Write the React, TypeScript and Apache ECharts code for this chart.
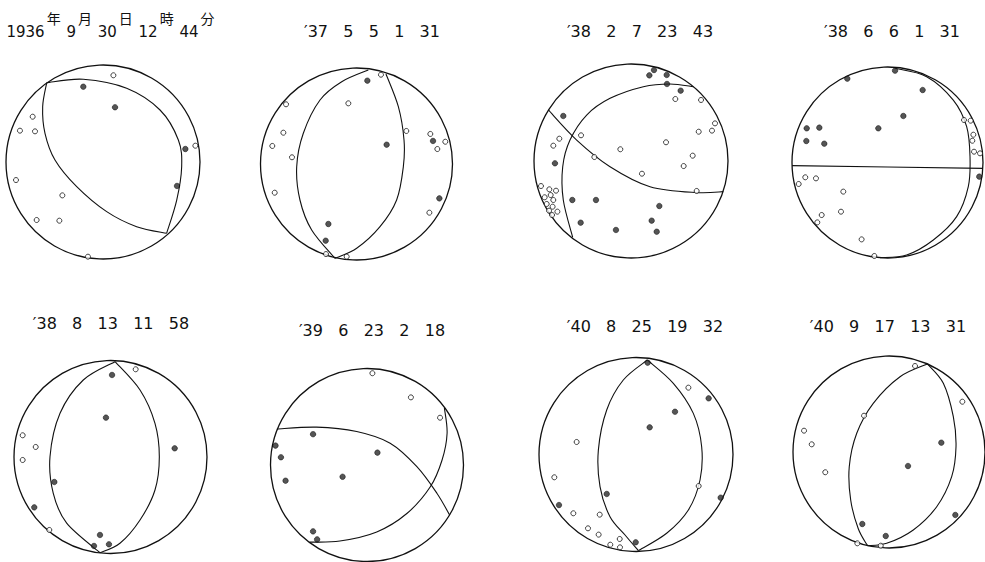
import React, { useEffect, useRef } from "react";
import * as echarts from "echarts";

// ---- titles ----
const title1Parts = ["1936", "年", "9", "月", "30", "日", "12", "時", "44", "分"];
const titles = [
  "",
  "′37   5   5   1   31",
  "′38   2   7   23   43",
  "′38   6   6   1   31",
  "′38   8   13   11   58",
  "′39   6   23   2   18",
  "′40   8   25   19   32",
  "′40   9   17   13   31",
];

// ---- panel 1 ----
const open1 = [[0.107,0.894],[-0.725,0.467],[-0.856,0.323],[-0.701,0.316],[0.952,0.168],[-0.897,-0.186],[-0.419,-0.344],[-0.684,-0.598],[-0.450,-0.605],[-0.155,-0.976]];
const filled1 = [[-0.203,0.776],[0.124,0.564],[0.849,0.134],[0.763,-0.247]];
const planes1 = [
  [[-0.580,0.818],[-0.203,0.853],[0.244,0.760],[0.588,0.536],[0.777,0.227],[0.811,-0.048],[0.760,-0.392],[0.656,-0.735]],
  [[-0.580,0.818],[-0.622,0.570],[-0.598,0.296],[-0.495,0.021],[-0.271,-0.254],[0.038,-0.512],[0.347,-0.667],[0.656,-0.735]],
];

// ---- panel 2 ----
const open2 = [[0.255,0.930],[-0.734,0.622],[-0.085,0.632],[-0.762,0.326],[-0.877,0.188],[-0.672,0.070],[0.519,0.344],[0.769,0.313],[0.842,0.156],[0.925,0.232],[-0.852,-0.299],[0.759,-0.507],[-0.318,-0.938],[-0.102,-0.965]];
const filled2 = [[0.113,0.868],[0.314,0.201],[0.797,0.240],[0.863,-0.358],[-0.293,-0.625],[-0.321,-0.799]];
const planes2 = [
  [[0.123,0.979],[-0.154,0.857],[-0.380,0.667],[-0.554,0.320],[-0.623,-0.028],[-0.589,-0.375],[-0.467,-0.688],[-0.224,-0.983]],
  [[0.307,0.938],[0.436,0.597],[0.495,0.250],[0.488,-0.028],[0.418,-0.375],[0.245,-0.653],[0.002,-0.878],[-0.224,-0.983]],
];

// ---- panel 3 ----
const open3 = [[0.457,0.639],[0.722,0.629],[0.866,0.388],[0.835,0.313],[0.698,0.302],[-0.515,0.265],[-0.739,0.230],[-0.801,0.158],[0.361,0.193],[-0.110,0.121],[-0.378,0.041],[0.636,0.055],[0.543,-0.052],[0.113,-0.131],[0.677,-0.309],[-0.928,-0.258],[-0.842,-0.292],[-0.773,-0.306],[-0.890,-0.374],[-0.828,-0.351],[-0.801,-0.402],[-0.869,-0.443],[-0.808,-0.471],[-0.759,-0.522],[-0.845,-0.512],[-0.814,-0.557]];
const filled3 = [[0.189,0.883],[0.237,0.938],[0.368,0.887],[0.371,0.794],[0.512,0.725],[-0.698,0.464],[-0.784,-0.024],[-0.605,-0.402],[-0.361,-0.402],[0.292,-0.464],[-0.519,-0.636],[0.213,-0.615],[-0.155,-0.711],[0.265,-0.729]];
const planes3 = [
  [[-0.852,0.526],[-0.560,0.216],[-0.216,-0.059],[0.196,-0.265],[0.677,-0.326],[0.952,-0.316]],
  [[0.643,0.766],[0.402,0.794],[0.127,0.766],[-0.216,0.646],[-0.457,0.474],[-0.629,0.216],[-0.704,-0.059],[-0.698,-0.402],[-0.601,-0.787]],
];

// ---- panel 4 ----
const open4 = [[0.801,0.445],[0.871,0.438],[0.899,0.291],[0.888,0.228],[0.906,0.113],[0.969,0.096],[-0.861,-0.155],[-0.749,-0.166],[-0.930,-0.225],[-0.463,-0.305],[-0.487,-0.515],[-0.689,-0.550],[-0.735,-0.627],[-0.271,-0.805],[-0.138,-0.979]];
const filled4 = [[0.079,0.962],[-0.421,0.878],[0.368,0.759],[0.166,0.487],[-0.846,0.358],[-0.714,0.365],[-0.096,0.358],[-0.850,0.225],[-0.662,0.197],[0.961,-0.148]];
const planes4 = [
  [[-0.999,-0.033],[1.0,-0.061]],
  [[0.079,0.986],[0.410,0.899],[0.689,0.654],[0.829,0.375],[0.864,0.061],[0.846,-0.253],[0.724,-0.567],[0.480,-0.812],[0.201,-0.969],[-0.079,-0.997]],
];

// ---- panel 5 ----
const open5 = [[0.261,0.909],[-0.910,0.225],[-0.775,0.104],[-0.910,-0.031],[-0.634,-0.756]];
const filled5 = [[0.016,0.850],[-0.047,0.408],[0.665,0.090],[-0.582,-0.259],[-0.790,-0.522],[-0.109,-0.808],[-0.171,-0.922],[-0.016,-0.905]];
const planes5 = [
  [[0.047,0.988],[-0.282,0.798],[-0.523,0.453],[-0.627,0.003],[-0.593,-0.376],[-0.454,-0.686],[-0.109,-0.992]],
  [[0.047,0.988],[0.306,0.694],[0.461,0.349],[0.506,0.003],[0.461,-0.342],[0.306,-0.653],[0.098,-0.894],[-0.109,-0.992]],
];

// ---- panel 6 ----
const open6 = [[0.056,0.951],[0.455,0.701],[0.757,0.490]];
const filled6 = [[-0.559,0.319],[-0.948,0.201],[-0.892,0.080],[0.108,0.128],[-0.253,-0.122],[-0.844,-0.163],[-0.559,-0.688],[-0.517,-0.771]];
const planes6 = [
  [[-0.934,0.372],[-0.524,0.392],[-0.107,0.347],[0.240,0.226],[0.517,-0.017],[0.726,-0.295],[0.858,-0.521]],
  [[0.802,0.590],[0.830,0.330],[0.778,0.052],[0.656,-0.226],[0.413,-0.503],[0.101,-0.694],[-0.281,-0.788],[-0.594,-0.799]],
];

// ---- panel 7 ----
const open7 = [[0.540,0.689],[-0.612,0.129],[-0.842,-0.235],[0.646,-0.325],[-0.646,-0.606],[-0.374,-0.620],[-0.495,-0.761],[-0.385,-0.826],[-0.168,-0.871],[-0.265,-0.930],[-0.165,-0.957]];
const filled7 = [[0.120,0.946],[0.749,0.579],[0.402,0.441],[0.141,0.280],[-0.302,-0.407],[0.873,-0.445],[-0.794,-0.521],[-0.003,-0.905]];
const planes7 = [
  [[0.117,0.974],[-0.131,0.768],[-0.302,0.459],[-0.388,0.046],[-0.371,-0.332],[-0.268,-0.641],[-0.113,-0.830],[0.024,-0.991]],
  [[0.117,0.974],[0.385,0.734],[0.591,0.424],[0.677,0.080],[0.660,-0.263],[0.540,-0.572],[0.316,-0.812],[0.024,-0.991]],
];

// ---- panel 8 ----
const open8 = [[0.271,0.896],[0.764,0.524],[-0.260,0.378],[-0.885,0.222],[-0.805,0.080],[-0.664,-0.211],[-0.330,-0.951],[-0.086,-0.976]];
const filled8 = [[0.545,0.097],[0.198,-0.146],[0.691,-0.656],[-0.278,-0.750],[-0.034,-0.875]];
const planes8 = [
  [[0.400,0.917],[0.115,0.784],[-0.164,0.507],[-0.336,0.195],[-0.414,-0.153],[-0.399,-0.500],[-0.320,-0.800],[-0.224,-0.975]],
  [[0.400,0.917],[0.566,0.716],[0.670,0.368],[0.698,0.055],[0.653,-0.257],[0.497,-0.570],[0.253,-0.812],[-0.024,-0.951],[-0.224,-0.975]],
];

const openPts = [open1, open2, open3, open4, open5, open6, open7, open8];
const filledPts = [filled1, filled2, filled3, filled4, filled5, filled6, filled7, filled8];
const planes = [planes1, planes2, planes3, planes4, planes5, planes6, planes7, planes8];

// ---- layout (pixels) ----
const centers = [[103,162],[356.5,164],[631,161],[887.5,162.5],[110.5,457],[367,465],[636,454.5],[889,452]];
const radii = [97, 96, 97, 95.5, 96.5, 96.5, 97, 96];
const titlePos = [[111,25],[372,31],[640,31],[892,31],[111,323],[372,330],[645,326],[888,326]];

const INK = "#111";

// Catmull-Rom spline through the projected points, drawn as cubic Béziers
function splinePath(pts: number[][]): string {
  const n = pts.length;
  if (n < 2) return "";
  let d = `M${pts[0][0]},${pts[0][1]}`;
  for (let i = 0; i < n - 1; i++) {
    const p0 = pts[Math.max(0, i - 1)];
    const p1 = pts[i];
    const p2 = pts[i + 1];
    const p3 = pts[Math.min(n - 1, i + 2)];
    const c1x = p1[0] + (p2[0] - p0[0]) / 6;
    const c1y = p1[1] + (p2[1] - p0[1]) / 6;
    const c2x = p2[0] - (p3[0] - p1[0]) / 6;
    const c2y = p2[1] - (p3[1] - p1[1]) / 6;
    d += ` C${c1x},${c1y} ${c2x},${c2y} ${p2[0]},${p2[1]}`;
  }
  return d;
}

function buildOption() {
  const grid: any[] = [];
  const xAxis: any[] = [];
  const yAxis: any[] = [];
  const polar: any[] = [];
  const angleAxis: any[] = [];
  const radiusAxis: any[] = [];
  const series: any[] = [];
  const graphic: any[] = [];

  for (let i = 0; i < 8; i++) {
    const [cx, cy] = centers[i];
    const r = radii[i];
    grid.push({ left: cx - r, top: cy - r, width: 2 * r, height: 2 * r, containLabel: false });
    xAxis.push({ gridIndex: i, type: "value", min: -1, max: 1, show: false });
    yAxis.push({ gridIndex: i, type: "value", min: -1, max: 1, show: false });
    polar.push({ center: [cx, cy], radius: r });
    angleAxis.push({
      polarIndex: i, type: "value", min: 0, max: 360, startAngle: 90,
      axisLine: { show: true, lineStyle: { color: INK, width: 1.3 } },
      axisTick: { show: false }, axisLabel: { show: false }, splitLine: { show: false },
    });
    radiusAxis.push({ polarIndex: i, type: "value", min: 0, max: 1, show: false, splitLine: { show: false } });

    planes[i].forEach((p) => {
      series.push({
        type: "custom", coordinateSystem: "cartesian2d", xAxisIndex: i, yAxisIndex: i,
        data: p, clip: false, silent: true, z: 2,
        encode: { x: 0, y: 1 },
        renderItem: (params: any, api: any) => {
          if (params.dataIndex !== 0) return null;
          const pix = p.map((pt) => api.coord(pt));
          return {
            type: "path",
            shape: { pathData: splinePath(pix) },
            style: { stroke: INK, lineWidth: 1.1, fill: "none" },
          };
        },
      });
    });
    series.push({
      type: "scatter", xAxisIndex: i, yAxisIndex: i, data: filledPts[i], symbolSize: 5.5,
      clip: false, silent: true, itemStyle: { color: "#2a2a2a", borderColor: "#000", borderWidth: 0.6 }, z: 3,
    });
    series.push({
      type: "scatter", xAxisIndex: i, yAxisIndex: i, data: openPts[i], symbolSize: 5,
      clip: false, silent: true, itemStyle: { color: "#fff", borderColor: INK, borderWidth: 1 }, z: 3,
    });

    if (i > 0) {
      graphic.push({
        type: "text", x: titlePos[i][0], y: titlePos[i][1], silent: true,
        style: {
          text: titles[i], fill: INK, fontSize: 16, fontFamily: "DejaVu Sans",
          align: "center", verticalAlign: "middle",
        },
      });
    }
  }

  const richText = title1Parts
    .map((t, k) => (k % 2 === 0 ? `{n|${k === 0 ? "" : " "}${t}}` : `{k|${t}}`))
    .join("");
  graphic.push({
    type: "text", x: titlePos[0][0], y: titlePos[0][1], silent: true,
    style: {
      text: richText, fill: INK, align: "center", verticalAlign: "middle",
      rich: {
        n: { fontSize: 15, fontFamily: "DejaVu Sans", lineHeight: 28, verticalAlign: "bottom", fill: INK },
        k: { fontSize: 14, fontFamily: "Noto Sans CJK JP", verticalAlign: "top", fill: INK, padding: [0, 1, 0, 2] },
      },
    },
  });

  return {
    animation: false,
    backgroundColor: "#fff",
    grid, xAxis, yAxis, polar, angleAxis, radiusAxis, series, graphic,
  };
}

export default function App() {
  const ref = useRef<HTMLDivElement>(null);
  useEffect(() => {
    if (!ref.current) return;
    const chart = echarts.init(ref.current, undefined, { renderer: "svg" });
    chart.setOption(buildOption());
    return () => chart.dispose();
  }, []);
  return (
    <div
      ref={ref}
      style={{ position: "absolute", left: 0, top: 0, width: 985, height: 562, background: "#fff" }}
    />
  );
}
